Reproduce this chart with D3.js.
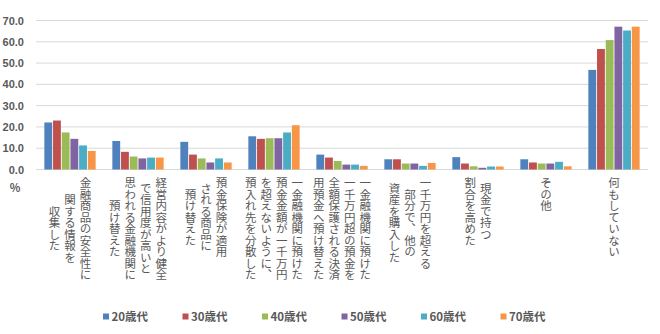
<!DOCTYPE html>
<html>
<head>
  <meta charset="utf-8">
  <script src="https://d3js.org/d3.v7.min.js"></script>
  <style>
    body { margin: 0; background: #fff; }
    text { font-family: "Noto Sans CJK JP", "Noto Sans", sans-serif; fill: #595959; }
  </style>
</head>
<body>
  <div id="chart"></div>
  <script>
    // category labels, one array of lines each
    const categories = [
      ["金融商品の安全性に", "関する情報を", "収集した"],
      ["経営内容がより健全", "で信用度が高いと", "思われる金融機関に", "預け替えた"],
      ["預金保険が適用", "される商品に", "預け替えた"],
      ["一金融機関に預けた", "預金金額が一千万円", "を超えないように、", "預入れ先を分散した"],
      ["一金融機関に預けた", "一千万円超の預金を", "全額保護される決済", "用預金へ預け替えた"],
      ["一千万円を超える", "部分で、他の", "資産を購入した"],
      ["現金で持つ", "割合を高めた"],
      ["その他"],
      ["何もしていない"]
    ];
    const seriesNames = ["20歳代", "30歳代", "40歳代", "50歳代", "60歳代", "70歳代"];
    const v20 = [22.1, 13.4, 13.0, 15.6, 7.0, 4.8, 5.8, 4.8, 46.8];
    const v30 = [23.0, 8.3, 7.0, 14.4, 5.6, 4.8, 2.8, 3.3, 56.6];
    const v40 = [17.4, 6.1, 5.2, 14.7, 4.0, 2.8, 1.5, 2.8, 60.8];
    const v50 = [14.4, 5.2, 3.3, 14.7, 2.3, 2.8, 0.8, 2.8, 67.1];
    const v60 = [11.3, 5.6, 5.2, 17.4, 2.3, 1.7, 1.4, 3.6, 65.3];
    const v70 = [8.7, 5.6, 3.3, 20.8, 1.7, 3.1, 1.4, 1.5, 67.1];
    const yTicks = [0, 10, 20, 30, 40, 50, 60, 70];

    const values = [v20, v30, v40, v50, v60, v70];
    const colors = ["#4F81BD", "#C0504D", "#9BBB59", "#8064A2", "#4BACC6", "#F79646"];

    const svg = d3.select("#chart").append("svg")
      .attr("width", 660)
      .attr("height", 334);

    const x0 = d3.scaleBand()
      .domain(d3.range(categories.length))
      .range([36, 648])
      .paddingInner(0.22)
      .paddingOuter(0.11);

    const x1 = d3.scaleBand()
      .domain(d3.range(seriesNames.length))
      .range([0, x0.bandwidth()])
      .padding(0.1);

    const y = d3.scaleLinear()
      .domain([0, 70])
      .range([169.5, 20.5]);

    // gridlines
    svg.append("g")
      .selectAll("line")
      .data(yTicks)
      .join("line")
      .attr("x1", 36)
      .attr("x2", 648)
      .attr("y1", d => y(d))
      .attr("y2", d => y(d))
      .attr("stroke", "#D9D9D9")
      .attr("stroke-width", 1);

    // y axis labels
    const yAxis = d3.axisLeft(y)
      .tickValues(yTicks)
      .tickFormat(d3.format(".1f"))
      .tickSize(0)
      .tickPadding(12);
    const yg = svg.append("g")
      .attr("transform", "translate(36,0)")
      .call(yAxis);
    yg.select(".domain").remove();
    yg.selectAll("text")
      .style("font-family", "'Liberation Sans', Arial, sans-serif")
      .style("font-size", "11px")
      .style("font-weight", "bold")
      .attr("fill", "#595959");

    svg.append("text")
      .attr("x", 15)
      .attr("y", 192)
      .attr("text-anchor", "middle")
      .style("font-size", "11px")
      .style("font-weight", "bold")
      .text("%");

    // bars
    svg.append("g")
      .selectAll("g")
      .data(values)
      .join("g")
      .attr("fill", (d, i) => colors[i])
      .each(function(series, si) {
        d3.select(this).selectAll("rect")
          .data(series)
          .join("rect")
          .attr("x", (d, ci) => x0(ci) + x1(si))
          .attr("y", d => y(d))
          .attr("width", x1.bandwidth())
          .attr("height", d => y(0) - y(d));
      });

    // vertical category labels
    const fs = 11.5, lineGap = 15.5, labelTop = 177;
    categories.forEach((lines, ci) => {
      const cx = x0(ci) + x0.bandwidth() / 2;
      const maxLen = d3.max(lines, l => l.length);
      const cy = labelTop + maxLen * fs / 2;
      lines.forEach((line, li) => {
        const colX = cx + ((lines.length - 1) / 2 - li) * lineGap;
        svg.append("text")
          .attr("x", colX)
          .attr("y", cy)
          .attr("text-anchor", "middle")
          .style("writing-mode", "vertical-rl")
          .style("font-size", fs + "px")
          .text(line);
      });
    });

    // legend
    const legend = svg.append("g")
      .selectAll("g")
      .data(seriesNames)
      .join("g")
      .attr("transform", (d, i) => `translate(${103 + i * 79.5},317)`);
    legend.append("rect")
      .attr("x", 0)
      .attr("y", -3.5)
      .attr("width", 6)
      .attr("height", 6)
      .attr("fill", (d, i) => colors[i]);
    legend.append("text")
      .attr("x", 8.5)
      .attr("y", 4)
      .style("font-size", "11.5px")
      .style("font-weight", "bold")
      .text(d => d);
  </script>
</body>
</html>
